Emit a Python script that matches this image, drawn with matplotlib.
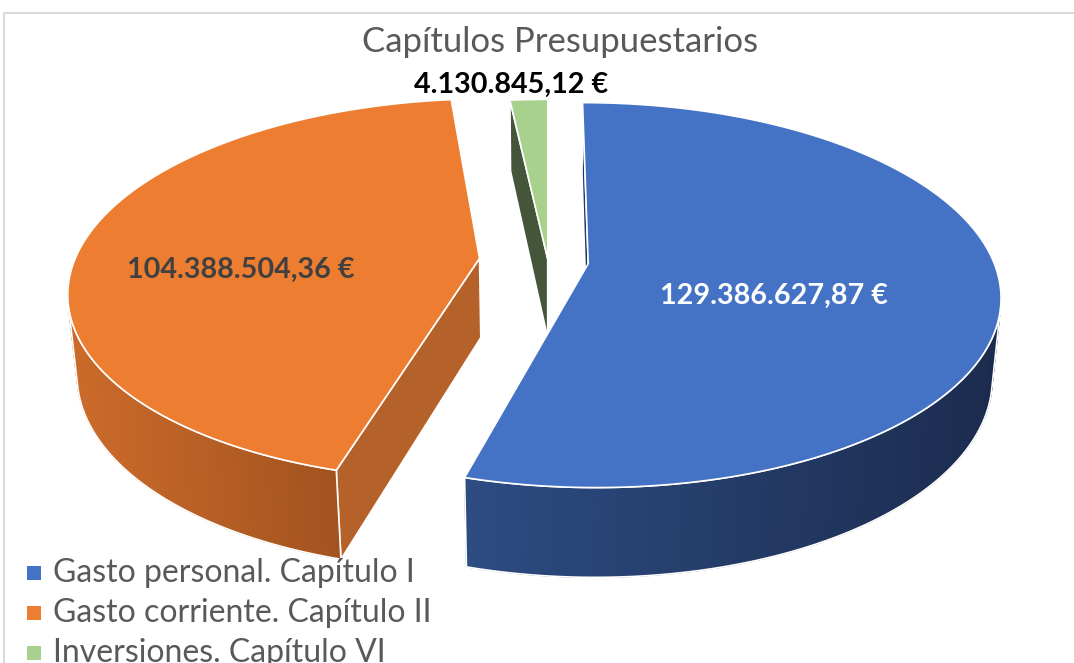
import numpy as np
import matplotlib
matplotlib.use("Agg")
import matplotlib.pyplot as plt
from matplotlib.patches import Polygon, Rectangle
from matplotlib.collections import PolyCollection
from matplotlib.colors import to_rgb

# ----------------------------
# DATA
# ----------------------------
TITLE = "Capítulos Presupuestarios"
categories = ["Gasto personal. Capítulo I", "Gasto corriente. Capítulo II", "Inversiones. Capítulo VI"]
values = [129386627.87, 104388504.36, 4130845.12]
value_labels = ["129.386.627,87 €", "104.388.504,36 €", "4.130.845,12 €"]

# ----------------------------
# STYLE
# ----------------------------
top_colors = ["#4472c4", "#ed7d31", "#a9d18e"]
wall_colors = [("#2d4c82", "#1b2b4e"), ("#cb6b2a", "#a2521f"), ("#44553a", "#44553a")]
cut_colors = ["#1f3764", "#b5612a", "#44553a"]
label_colors = ["white", "#404040", "black"]
explode = [0.10, 0.17, 0.01]
label_radius = [0.45, 0.60, 1.08]
label_shift = [(2, 21), (0, 21), (-16, -4)]   # pixel nudges

W, H = 1074, 663
CX, CY = 548, 261          # pie centre on the canvas (pixels)
ELEV = np.radians(27.4)    # camera elevation
DIST = 5.43                # camera distance (in pie radii)
FOCAL = 2200
THICK = 0.225              # pie height (in pie radii)
CAM = np.array([0.0, -DIST * np.cos(ELEV), DIST * np.sin(ELEV)])

plt.rcParams["font.family"] = ["Lato", "DejaVu Sans"]


def project(X, Y, Z):
    X, Y, Z = np.asarray(X, float), np.asarray(Y, float), np.asarray(Z, float)
    depth = DIST + Y * np.cos(ELEV) - Z * np.sin(ELEV)
    v = Y * np.sin(ELEV) + Z * np.cos(ELEV)
    return CX + FOCAL * X / depth, CY - FOCAL * v / depth


def facing(point, normal):
    return np.dot(CAM - np.asarray(point), np.asarray(normal)) > 0


def mix(c0, c1, f):
    a, b = np.array(to_rgb(c0)), np.array(to_rgb(c1))
    return tuple(a + (b - a) * f)


# ----------------------------
# Geometry (angles clockwise from 12 o'clock)
# ----------------------------
fracs = np.array(values) / np.sum(values)
ends = np.cumsum(fracs) * 2 * np.pi
starts = ends - fracs * 2 * np.pi

fig = plt.figure(figsize=(W / 100, H / 100), dpi=100)
ax = fig.add_axes([0, 0, 1, 1])
ax.set_xlim(0, W)
ax.set_ylim(H, 0)
ax.axis("off")

# frame of the chart area
ax.plot([4, 4, W + 10], [H + 10, 13, 13], color="#d9d9d9", lw=1.5, zorder=0)

# draw back slice first
order = sorted(range(len(values)), key=lambda i: -np.cos((starts[i] + ends[i]) / 2))

for i in order:
    a0, a1 = starts[i], ends[i]
    mid = (a0 + a1) / 2
    ox, oy = explode[i] * np.sin(mid), explode[i] * np.cos(mid)
    t = np.linspace(a0, a1, max(int(np.degrees(a1 - a0)), 4))
    rx, ry = ox + np.sin(t), oy + np.cos(t)

    # radial cut faces
    for ang, sgn in ((a0, -1), (a1, 1)):
        n = (sgn * np.cos(ang), -sgn * np.sin(ang), 0)
        if facing((ox, oy, -THICK / 2), n):
            X = [ox, ox + np.sin(ang), ox + np.sin(ang), ox]
            Y = [oy, oy + np.cos(ang), oy + np.cos(ang), oy]
            Z = [0, 0, -THICK, -THICK]
            px, py = project(X, Y, Z)
            ax.add_patch(Polygon(np.column_stack([px, py]), closed=True, fc=cut_colors[i],
                                 ec="white", lw=1.2, zorder=2))

    # outer wall, only the part facing the camera
    quads, vis_idx = [], []
    for k in range(len(t) - 1):
        tm = (t[k] + t[k + 1]) / 2
        p = (ox + np.sin(tm), oy + np.cos(tm), -THICK / 2)
        if facing(p, (np.sin(tm), np.cos(tm), 0)):
            vis_idx.append(k)
    if vis_idx:
        k0, k1 = vis_idx[0], vis_idx[-1] + 1
        tx, ty = rx[k0:k1 + 1], ry[k0:k1 + 1]
        topx, topy = project(tx, ty, np.zeros_like(tx))
        botx, boty = project(tx, ty, np.full_like(tx, -THICK))
        xmin, xmax = min(topx.min(), botx.min()), max(topx.max(), botx.max())
        cols = []
        for k in range(len(tx) - 1):
            quads.append([(topx[k], topy[k]), (topx[k + 1], topy[k + 1]),
                          (botx[k + 1], boty[k + 1]), (botx[k], boty[k])])
            f = ((topx[k] + topx[k + 1]) / 2 - xmin) / max(xmax - xmin, 1)
            cols.append(mix(wall_colors[i][0], wall_colors[i][1], f))
        ax.add_collection(PolyCollection(quads, facecolors=cols, edgecolors=cols,
                                         linewidths=0.8, zorder=2))
        outline = np.vstack([np.column_stack([topx, topy]), np.column_stack([botx, boty])[::-1]])
        ax.add_patch(Polygon(outline, closed=True, fc="none", ec="white", lw=1.2, zorder=3))

    # top face
    px, py = project(np.r_[ox, rx], np.r_[oy, ry], np.zeros(len(rx) + 1))
    ax.add_patch(Polygon(np.column_stack([px, py]), closed=True, fc=top_colors[i],
                         ec="white", lw=1.2, zorder=4))

    # data label
    lr = label_radius[i]
    lx, ly = project(ox + lr * np.sin(mid), oy + lr * np.cos(mid), 0)
    ax.text(lx + label_shift[i][0], ly + label_shift[i][1], value_labels[i],
            color=label_colors[i], fontsize=20.7, fontweight="bold",
            ha="center", va="center", zorder=6)

# title
ax.text(560, 42, TITLE, color="#595959", fontsize=25, ha="center", va="center", zorder=6)

# legend (clipped by the bottom of the canvas as in the original)
for j, name in enumerate(categories):
    yy = 573 + j * 40
    ax.add_patch(Rectangle((27, yy - 7), 14, 14, fc=top_colors[j], ec="none", zorder=6))
    ax.text(53, yy, name, color="#595959", fontsize=23, ha="left", va="center", zorder=6)

fig.savefig("out.png", dpi=100)
